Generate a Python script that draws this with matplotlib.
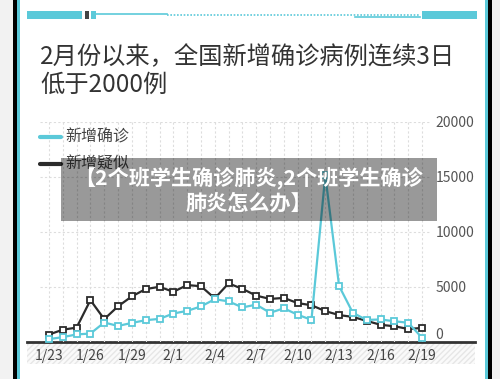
import matplotlib
matplotlib.use("Agg")
import matplotlib.pyplot as plt
from matplotlib.patches import Rectangle
from matplotlib.lines import Line2D

plt.rcParams['font.family'] = ['Noto Sans CJK SC', 'DejaVu Sans']

# data: 1/23 ... 2/19
dates = ["1/23", "1/24", "1/25", "1/26", "1/27", "1/28", "1/29", "1/30", "1/31",
         "2/1", "2/2", "2/3", "2/4", "2/5", "2/6", "2/7", "2/8", "2/9", "2/10",
         "2/11", "2/12", "2/13", "2/14", "2/15", "2/16", "2/17", "2/18", "2/19"]
quezhen = [259, 444, 688, 769, 1771, 1459, 1737, 1982, 2102, 2590, 2829, 3235, 3887, 3694,
           3143, 3399, 2656, 3062, 2478, 2015, 15152, 5090, 2641, 2009, 2048, 1886, 1749, 394]
yisi = [680, 1118, 1309, 3806, 2077, 3248, 4148, 4812, 5019, 4562, 5173, 5072, 3971, 5328,
        4833, 4214, 3916, 4008, 3536, 3342, 2807, 2450, 2277, 1918, 1563, 1432, 1185, 1277]
yticks = [0, 5000, 10000, 15000, 20000]

W, H = 500, 379
cyan = "#5bc9d9"
dark = "#2b2b2b"

fig = plt.figure(figsize=(5, 3.79), dpi=100)
fig.patch.set_facecolor("#f2f2f2")

def rect(x0, y0, x1, y1, **kw):
    fig.patches.append(Rectangle((x0 / W, 1 - y1 / H), (x1 - x0) / W, (y1 - y0) / H,
                                 transform=fig.transFigure, **kw))

def hline(x0, x1, y, **kw):
    fig.lines.append(Line2D([x0 / W, x1 / W], [1 - y / H, 1 - y / H],
                            transform=fig.transFigure, **kw))

# frame
rect(13, 0, 492, 379, facecolor="white", edgecolor="none", zorder=-2)
rect(13, 0, 16.5, 379, facecolor="black", edgecolor="none", zorder=1)
rect(16.5, 0, 20, 379, facecolor=cyan, edgecolor="none", zorder=1)
rect(485, 0, 488, 379, facecolor=cyan, edgecolor="none", zorder=1)
rect(488, 0, 492, 379, facecolor="black", edgecolor="none", zorder=1)

# top decoration
rect(27, 11, 82, 19, facecolor=cyan, edgecolor="none")
rect(85, 11, 89, 19, facecolor="#444444", edgecolor="none")
rect(91, 11, 96, 19, facecolor=cyan, edgecolor="none")
hline(96, 167, 14, color=cyan, lw=1.2)
hline(167, 420, 14.5, color=cyan, lw=1.2, ls=(0, (1, 1)))
hline(355, 420, 17, color=cyan, lw=1.2)
rect(422, 11, 477, 19, facecolor=cyan, edgecolor="none")

# title
fig.text(40 / W, 1 - 57 / H, "2月份以来，全国新增确诊病例连续3日", fontsize=17.5,
         color="#333333", va="center", ha="left", weight="medium")
fig.text(40 / W, 1 - 85 / H, "低于2000例", fontsize=17.5,
         color="#333333", va="center", ha="left", weight="medium")

# hatched band under axis
rect(27, 343, 475, 364, facecolor="#fafafa", edgecolor="#e6e6e6", hatch="//////",
     lw=0, zorder=-1)

# axes
ax = fig.add_axes([40 / W, 1 - 342 / H, 390 / W, 220 / H])
ax.set_zorder(2)
ax.set_facecolor("none")
x = list(range(len(dates)))
ax.plot(x, yisi, color=dark, lw=1.6, marker="s", ms=5, mfc="white", mec=dark, mew=1.3,
        zorder=3, clip_on=False)
ax.plot(x, quezhen, color=cyan, lw=1.6, marker="s", ms=5, mfc="white", mec=cyan, mew=1.3,
        zorder=4, clip_on=False)
ax.set_xlim(-0.65, 27.58)
ax.set_ylim(0, 20000)
ax.set_xticks(x[::3])
ax.set_xticklabels(dates[::3], fontsize=10, color="#444444")
ax.set_xticks(x, minor=True)
ax.set_yticks(yticks)
ax.set_yticklabels([str(v) for v in yticks], fontsize=10, color="#555555")
ax.yaxis.tick_right()
ax.tick_params(axis="y", length=0, pad=4)
ax.tick_params(axis="x", which="both", length=0, pad=5)
ax.grid(True, which="both", axis="x", color="#dddddd", ls=(0, (2, 2)), lw=0.8)
ax.grid(True, axis="y", color="#dddddd", ls=(0, (2, 2)), lw=0.8)
ax.set_axisbelow(True)
for s in ax.spines.values():
    s.set_visible(False)
ax.get_yticklabels()[0].set_va("bottom")

# axis line
hline(27, 475, 342, color="#333333", lw=2, zorder=1)

# legend
hline(40, 61, 137, color=cyan, lw=3, solid_capstyle="round", zorder=5)
fig.text(65 / W, 1 - 137 / H, "新增确诊", fontsize=11.5, color="#444444", va="center",
         zorder=5)
hline(40, 61, 164, color=dark, lw=3, solid_capstyle="round", zorder=5)
fig.text(65 / W, 1 - 164 / H, "新增疑似", fontsize=11.5, color="#444444", va="center",
         zorder=5)

# overlay banner
rect(61, 158, 437, 221, facecolor="black", alpha=0.4, edgecolor="none", zorder=10)
fig.text(249 / W, 1 - 178 / H, "【2个班学生确诊肺炎,2个班学生确诊", fontsize=15.2,
         color="white", weight="bold", ha="center", va="center", zorder=11)
fig.text(249 / W, 1 - 203 / H, "肺炎怎么办】", fontsize=15.2,
         color="white", weight="bold", ha="center", va="center", zorder=11)

fig.savefig("out.png", dpi=100)
